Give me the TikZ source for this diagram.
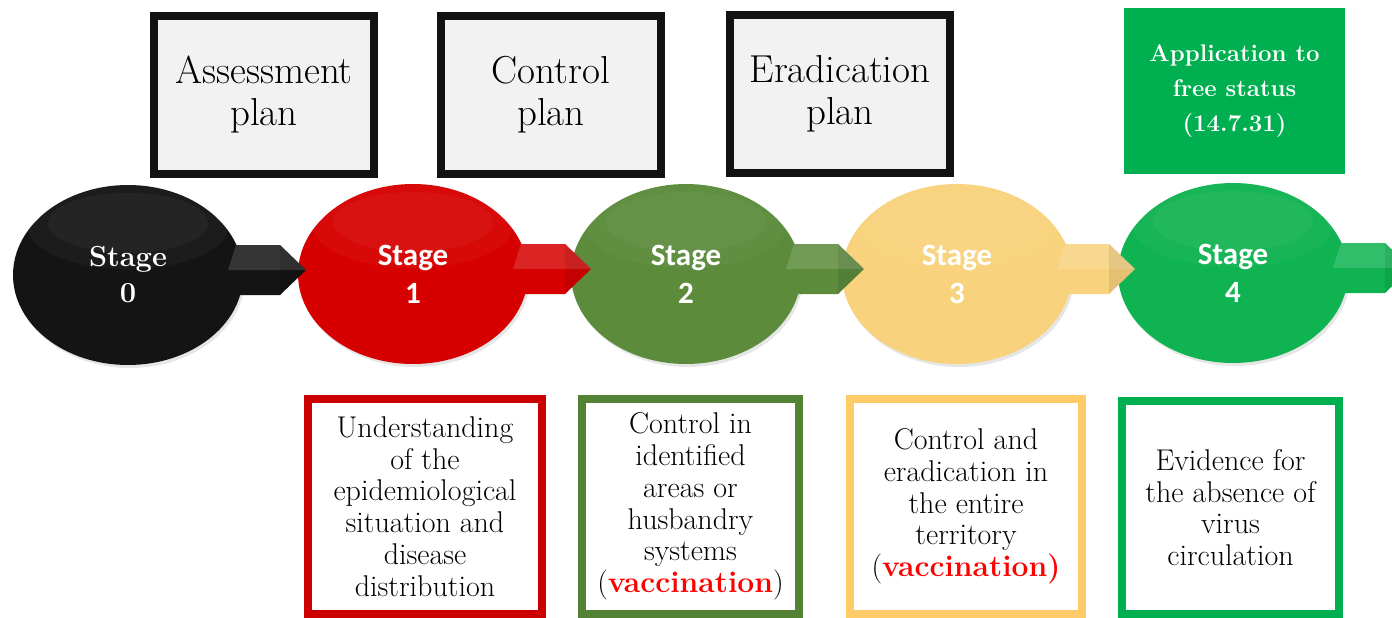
\documentclass[tikz,border=0pt]{standalone}
\usepackage{fontspec}
\setsansfont{Carlito}
\usetikzlibrary{shapes.geometric,shadows}

\definecolor{stblack}{HTML}{141414}
\definecolor{stred}{HTML}{D60000}
\definecolor{stolive}{HTML}{5B8B3B}
\definecolor{stsand}{HTML}{F8D27C}
\definecolor{stgreen}{HTML}{10B352}
\definecolor{frred}{HTML}{CC0000}
\definecolor{frolive}{HTML}{548235}
\definecolor{frsand}{HTML}{FFCB69}
\definecolor{frgreen}{HTML}{00B050}
\definecolor{vacred}{HTML}{FF0000}
\definecolor{plangray}{HTML}{F2F2F2}

\tikzset{
  x=1pt, y=-1pt,
  planbox/.style={draw=black!93, line width=8pt, fill=plangray, inner sep=0pt,
    minimum width=220pt, minimum height=158pt, align=center,
    font=\fontsize{39}{42}\selectfont},
  statusbox/.style={fill=frgreen, inner sep=0pt, minimum width=221pt,
    minimum height=166pt, align=center, text=white,
    font=\fontsize{24}{35}\selectfont\bfseries},
  stageball/.style={ellipse, inner sep=0pt, minimum width=230pt,
    minimum height=180pt, align=center, text=white,
    font=\fontsize{31}{38}\selectfont\sffamily\bfseries,
    drop shadow={shadow xshift=2pt, shadow yshift=-3pt, opacity=0.2},
    path picture={
      \fill[white, opacity=0.035]
        ([yshift=48pt]path picture bounding box.center) ellipse (100 and 42);
      \fill[white, opacity=0.035]
        ([yshift=52pt]path picture bounding box.center) ellipse (80 and 30);}},
  serifstage/.style={font=\fontsize{29}{36}\selectfont\rmfamily\bfseries},
  notebox/.style={line width=8pt, fill=white, inner sep=0pt, align=center,
    minimum height=215pt, font=\fontsize{30}{31.7}\selectfont},
}

% beveled link shape drawn to the right of a stage ellipse
\newcommand\stagelink[2]{%
  \begin{scope}[shift={(#1.center)}]
    \fill[#2] (100,-5) -- (108,-30) -- (152,-30) -- (178,-5) -- (152,20) -- (108,20) -- cycle;
    \fill[white, opacity=0.14] (100,-5) -- (108,-30) -- (152,-30) -- (178,-5) -- cycle;
    \fill[black, opacity=0.08] (152,-30) -- (178,-5) -- (152,20) -- cycle;
  \end{scope}}

\begin{document}
\begin{tikzpicture}
\useasboundingbox (0,0) rectangle (1392,618);

% plans above the stages
\node[planbox] (assess) at (264,95) {Assessment\\plan};
\node[planbox] (control) at (551,95) {Control\\plan};
\node[planbox] (erad) at (840,94) {Eradication\\plan};
\node[statusbox] (status) at (1234.5,91) {Application to\\free status\\(14.7.31)};

% stages
\node[stageball, serifstage, fill=stblack] (s0) at (128,275) {Stage\\0};
\node[stageball, fill=stred] (s1) at (413,274) {Stage\\1};
\node[stageball, fill=stolive] (s2) at (686,274) {Stage\\2};
\node[stageball, fill=stsand] (s3) at (957,274) {Stage\\3};
\node[stageball, fill=stgreen] (s4) at (1233,273) {Stage\\4};

% links between consecutive stages
\stagelink{s0}{stblack}
\stagelink{s1}{stred}
\stagelink{s2}{stolive}
\stagelink{s3}{stsand}
\stagelink{s4}{stgreen}

% descriptions below the stages
\node[notebox, draw=frred, minimum width=234pt] (d1) at (425,506.5)
  {Understanding\\of the\\epidemiological\\situation and\\disease\\distribution};
\node[notebox, draw=frolive, minimum width=217pt] (d2) at (690.5,506.5)
  {Control in\\identified\\areas or\\husbandry\\systems\\(\textcolor{vacred}{\textbf{vaccination}})};
\node[notebox, draw=frsand, minimum width=232pt] (d3) at (966,506.5)
  {Control and\\eradication in\\the entire\\territory\\(\textcolor{vacred}{\textbf{vaccination)}}};
\node[notebox, draw=frgreen, minimum width=217pt, minimum height=213pt] (d4) at (1230.5,507.5)
  {Evidence for\\the absence of\\virus\\circulation};
\end{tikzpicture}
\end{document}
